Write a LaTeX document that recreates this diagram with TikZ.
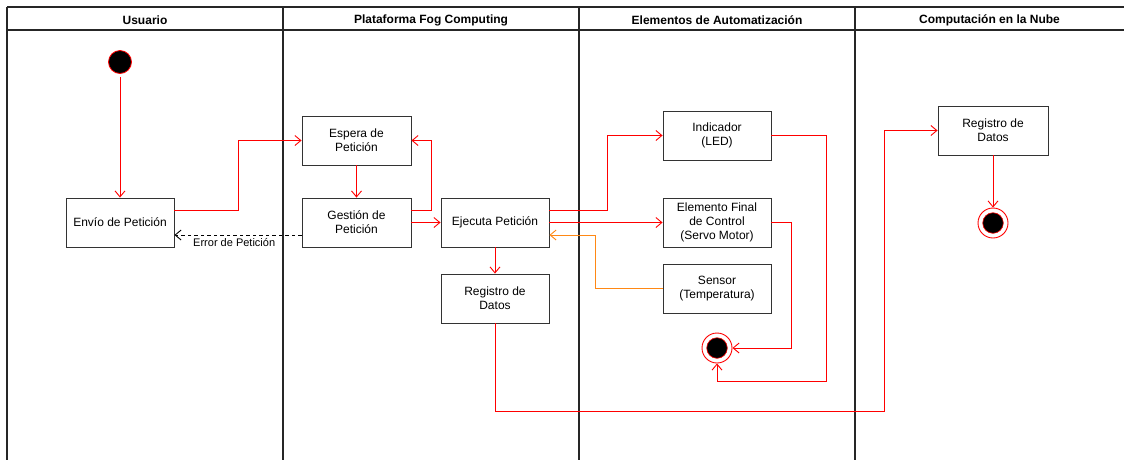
\documentclass[tikz,border=0pt]{standalone}
\usepackage{fontspec}
\setmainfont{Liberation Sans}
\usetikzlibrary{arrows.meta,calc}

\begin{document}
\begin{tikzpicture}[x=1pt,y=-1pt,
  lane/.style={draw=black!85, line width=1.3pt},
  lanetitle/.style={font=\bfseries\fontsize{12}{14}\selectfont, anchor=center},
  box/.style={draw=black!80, line width=0.9pt, fill=white, minimum width=108pt,
    minimum height=49pt, align=center, inner sep=2pt,
    font=\fontsize{12}{14}\selectfont},
  startdot/.style={circle, draw=red, fill=black, line width=0.8pt, minimum size=23pt, inner sep=0pt},
  endring/.style={circle, draw=red, fill=white, line width=0.9pt, minimum size=30pt, inner sep=0pt},
  openhead/.style={-{Straight Barb[length=6pt,width=10pt]}},
  flow/.style={draw=red, line width=0.9pt, openhead},
  sense/.style={draw={rgb,255:red,255;green,136;blue,20}, line width=0.9pt, openhead},
  errflow/.style={draw=black, line width=0.9pt, dash pattern=on 3.5pt off 3pt, openhead},
  lbl/.style={font=\fontsize{11}{13}\selectfont, inner sep=1pt}
]
\useasboundingbox (0,0) rectangle (1124,459);

% swimlanes
\draw[lane] (7,7) -- (1130,7);
\draw[lane] (7,30) -- (1130,30);
\foreach \x in {7,283,579,855} \draw[lane] (\x,7) -- (\x,465);
\node[lanetitle] (tUsuario) at (145,20) {Usuario};
\node[lanetitle] (tFog) at (431,20) {Plataforma Fog Computing};
\node[lanetitle] (tAuto) at (717,20) {Elementos de Automatización};
\node[lanetitle] (tNube) at (989.5,20) {Computación en la Nube};

% activities
\node[startdot] (start) at (120,62) {};
\node[box] (envio) at (120,222.5) {Envío de Petición};
\node[box, minimum width=109pt] (espera) at (356.5,140.5) {Espera de\\Petición};
\node[box, minimum width=109pt] (gestion) at (356.5,222.5) {Gestión de\\Petición};
\node[box] (ejecuta) at (495,222.5) {Ejecuta Petición};
\node[box] (regfog) at (495,298.5) {Registro de\\Datos};
\node[box] (indicador) at (717,135.5) {Indicador\\(LED)};
\node[box] (elemento) at (717,222.5) {Elemento Final\\de Control\\(Servo Motor)};
\node[box] (sensor) at (717,288.5) {Sensor\\(Temperatura)};
\node[box, minimum width=110pt] (regnube) at (993,130.5) {Registro de\\Datos};

% final states
\node[endring] (end1) at (717,348) {};
\fill[black, draw=red, line width=0.6pt] (end1.center) circle (10.3);
\node[endring] (end2) at (993,223) {};
\fill[black, draw=red, line width=0.6pt] (end2.center) circle (10.3);

% flows
\draw[flow, shorten <=3pt] (start.south) -- (envio.north);
\draw[flow] ([yshift=12pt]envio.east) -- ++(64,0) |- (espera.west);
\draw[flow] (espera.south) -- (gestion.north);
\draw[flow] ([yshift=12.5pt]gestion.east) -- ++(19.5,0) |- (espera.east);
\draw[flow] (gestion.east) -- (ejecuta.west);
\draw[errflow] ([yshift=-12.5pt]gestion.west) -- ([yshift=-12.5pt]envio.east)
  node[lbl, pos=0.53, below=2pt] (errlbl) {Error de Petición};
\draw[flow] (ejecuta.south) -- (regfog.north);
\draw[flow] ([yshift=12.5pt]ejecuta.east) -- ++(57.5,0) |- (indicador.west);
\draw[flow] (ejecuta.east) -- (elemento.west);
\draw[sense] (sensor.west) -- ++(-67.5,0) |- ([yshift=-12.5pt]ejecuta.east);
\draw[flow] (indicador.east) -- ++(54.5,0) -- ++(0,246) -| (end1.south);
\draw[flow] (elemento.east) -- ++(19.5,0) |- (end1.east);
\draw[flow] (regfog.south) -- ++(0,88) -- ++(389,0) |- (regnube.west);
\draw[flow] (regnube.south) -- (end2.north);
\end{tikzpicture}
\end{document}
